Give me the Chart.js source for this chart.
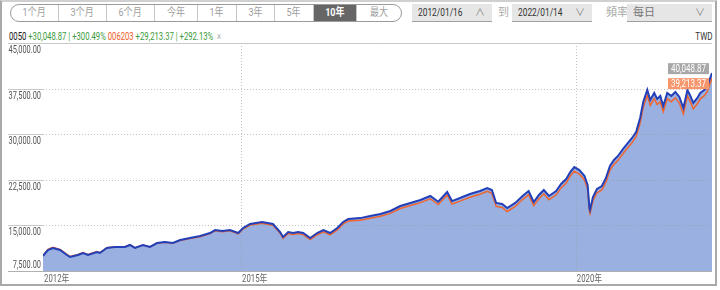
<!DOCTYPE html>
<html>
<head>
<meta charset="utf-8">
<script src="https://cdn.jsdelivr.net/npm/chart.js@4/dist/chart.umd.min.js"></script>
<style>
  html, body { margin: 0; padding: 0; background: #fff; }
  body {
    width: 720px; height: 290px; position: relative; overflow: hidden;
    font-family: Roboto, "Noto Sans CJK SC", sans-serif;
  }
  .frame {
    position: absolute; left: 0; top: 0; width: 713px; height: 282px;
    border: 2px solid #a9a9a9; border-top-color: #d0d0d0; box-sizing: content-box;
  }
  .tabs {
    position: absolute; left: 10px; top: 4px; height: 18px; display: flex;
    border: 1px solid #9a9a9a; border-radius: 9px; overflow: hidden; box-sizing: border-box;
  }
  .tabs div {
    height: 16px; line-height: 16px; text-align: center; font-size: 11px; color: #a0a0a0;
    border-left: 1px solid #c4c4c4; box-sizing: border-box;
  }
  .tabs div span { display: inline-block; transform: scaleX(0.82); }
  .tabs div:first-child { border-left: none; }
  .tabs div.on { background: #666; color: #fff; font-weight: bold; }
  .box {
    position: absolute; top: 4px; height: 18px; background: #e6e6e6;
    border-bottom: 1px solid #a0a0a0; box-sizing: border-box;
    font-size: 11px; line-height: 17px; color: #333; padding-left: 6px;
  }
  .box b { font-weight: normal; display: inline-block; transform: scaleX(0.76); transform-origin: 0 50%; }
  .box span { position: absolute; right: 7px; top: 0; color: #888; font-size: 10px; }
  .lbl { position: absolute; top: 4px; font-size: 11px; line-height: 17px; color: #aaa; }
  .legend {
    position: absolute; left: 9px; top: 30px; font-size: 11px; line-height: 13px; white-space: nowrap;
    transform: scaleX(0.7); transform-origin: 0 50%;
  }
  .legend .k { color: #111; }
  .legend .g { color: #3c9a3c; }
  .legend .o { color: #f05a28; }
  .legend .x { color: #aaa; }
  .twd {
    position: absolute; right: 8px; top: 30px; font-size: 10px; line-height: 13px; color: #333;
    transform: scaleX(0.8); transform-origin: 100% 50%;
  }
  canvas { position: absolute; left: 0; top: 0; }
</style>
</head>
<body>
<div class="frame"></div>
<div class="tabs" id="tabs"></div>
<div class="box" style="left:412px;width:80px;"><b>2012/01/16</b><span>∧</span></div>
<div class="lbl" style="left:498px;">到</div>
<div class="box" style="left:512px;width:80px;"><b>2022/01/14</b><span>∨</span></div>
<div class="lbl" style="left:606px;">頻率</div>
<div class="box" style="left:627px;width:85px;color:#777;">每日<span>∨</span></div>
<div class="legend"><span class="k">0050</span> <span class="g">+30,048.87 | +300.49%</span> <span class="o">006203</span> <span class="g">+29,213.37 | +292.13%</span> <span class="x">&nbsp;×</span></div>
<div class="twd">TWD</div>
<canvas id="perfChart" width="720" height="290"></canvas>

<script>
// ========== Data ==========
const rangeTabs = ['1个月', '3个月', '6个月', '今年', '1年', '3年', '5年', '10年', '最大'];
const tabWidths = [47, 48, 48, 43, 39, 38, 39, 43, 45];
const activeTab = '10年';

const seriesNames = ['0050', '006203'];
const startDate = '2012-01-16';
const endDate = '2022-01-14';

const dates = [
  '2012-01-16', '2012-02-12', '2012-03-10', '2012-04-18', '2012-05-26', '2012-06-12',
  '2012-07-25', '2012-08-22', '2012-09-18', '2012-11-06', '2012-11-22', '2012-12-30',
  '2013-02-12', '2013-04-08', '2013-05-05', '2013-06-01', '2013-07-15', '2013-08-22',
  '2013-09-30', '2013-11-12', '2013-12-25', '2014-02-03', '2014-03-28', '2014-05-23',
  '2014-07-16', '2014-08-12', '2014-09-20', '2014-11-02', '2014-12-16', '2015-01-12',
  '2015-02-19', '2015-04-25', '2015-06-24', '2015-08-02', '2015-08-18', '2015-09-15',
  '2015-10-12', '2015-11-08', '2015-12-06', '2016-01-13', '2016-02-20', '2016-03-25',
  '2016-05-01', '2016-06-09', '2016-07-11', '2016-08-08', '2016-10-12', '2016-12-06',
  '2017-01-31', '2017-03-26', '2017-05-19', '2017-07-13', '2017-09-06', '2017-10-30',
  '2017-12-12', '2018-01-30', '2018-02-25', '2018-04-10', '2018-06-03', '2018-07-28',
  '2018-09-05', '2018-10-01', '2018-10-24', '2018-11-26', '2018-12-23', '2019-02-05',
  '2019-03-17', '2019-04-19', '2019-05-17', '2019-06-14', '2019-07-11', '2019-08-08',
  '2019-09-16', '2019-10-13', '2019-11-10', '2019-12-02', '2019-12-24', '2020-01-21',
  '2020-02-18', '2020-03-06', '2020-03-16', '2020-03-19', '2020-04-04', '2020-04-26',
  '2020-05-23', '2020-06-14', '2020-07-06', '2020-07-28', '2020-08-19', '2020-09-16',
  '2020-10-08', '2020-11-04', '2020-11-26', '2020-12-18', '2021-01-04', '2021-01-26',
  '2021-02-11', '2021-03-05', '2021-03-21', '2021-04-07', '2021-04-23', '2021-05-15',
  '2021-06-06', '2021-06-28', '2021-07-20', '2021-08-11', '2021-09-02', '2021-09-18',
  '2021-10-04', '2021-10-26', '2021-11-11', '2021-12-03', '2021-12-20', '2021-12-31',
  '2022-01-14'
];

const values0050 = [
  10000, 10950, 11290, 10950, 10130, 9800,
  10130, 10460, 10130, 10630, 10460, 11290,
  11450, 11450, 11780, 11290, 11780, 11450,
  12100, 12270, 12100, 12600, 12930, 13250,
  13750, 14240, 14070, 14240, 13750, 14570,
  15230, 15560, 15230, 13900, 13090, 13900,
  13750, 13900, 13750, 12930, 13750, 14240,
  13750, 14570, 15560, 16050, 16200, 16550,
  16870, 17370, 18190, 18690, 19180, 19840,
  18900, 20500, 19000, 19500, 20170, 20660,
  21150, 20820, 18690, 18520, 17860, 18690,
  19840, 20660, 18850, 20000, 20820, 19840,
  20660, 21810, 22630, 23780, 24600, 24100,
  23130, 21650, 17860, 17540, 19670, 20990,
  21480, 22800, 24770, 25760, 26420, 27570,
  28390, 29380, 30370, 32670, 35300, 37280,
  35630, 36780, 35800, 36290, 34640, 36780,
  36290, 36950, 36120, 34310, 37280, 36290,
  35140, 35960, 36780, 37280, 37930, 38920,
  40048.87
];

const values006203 = [
  10000, 11040, 11390, 11050, 10220, 9880,
  10210, 10540, 10200, 10700, 10520, 11340,
  11490, 11480, 11800, 11300, 11780, 11440,
  12080, 12230, 12050, 12530, 12850, 13150,
  13640, 14120, 13940, 14100, 13600, 14410,
  15060, 15370, 15030, 13690, 12870, 13670,
  13510, 13650, 13490, 12660, 13470, 13950,
  13450, 14260, 15240, 15720, 15850, 16190,
  16490, 16980, 17780, 18260, 18740, 19380,
  18430, 20010, 18510, 18990, 19640, 20120,
  20600, 20260, 18130, 17950, 17290, 18110,
  19250, 20060, 18250, 19390, 20200, 19220,
  20030, 21170, 21980, 23120, 23930, 23430,
  22470, 21000, 17260, 16950, 19050, 20350,
  20830, 22140, 24080, 25050, 25700, 26830,
  27640, 28610, 29580, 31850, 34430, 36380,
  34730, 35860, 34870, 35350, 33690, 35820,
  35320, 35970, 35130, 33330, 36300, 35310,
  34170, 35000, 35820, 36340, 37020, 38040,
  39213.37
];

// y axis and x axis ticks
const yMin = 7500;
const yMax = 45000;
const yStep = 7500;
const xTickDates = ['2012-01-16', '2015-01-01', '2020-01-01'];
const xTickLabels = ['2012年', '2015年', '2020年'];

// ========== Helpers ==========
const FONT = 'Roboto, "Noto Sans CJK SC", sans-serif';

// 'YYYY-MM-DD' -> decimal year, so a linear scale can stand in for a time axis
function toYear(s) {
  const [y, m, d] = s.split('-').map(Number);
  const start = Date.UTC(y, 0, 1);
  const next = Date.UTC(y + 1, 0, 1);
  return y + (Date.UTC(y, m - 1, d) - start) / (next - start);
}

function fmtNum(v) {
  return v.toLocaleString('en-US', { minimumFractionDigits: 2, maximumFractionDigits: 2 });
}

// the original uses a condensed face; squeeze the text horizontally instead
function narrowText(ctx, text, x, y, align, sx) {
  ctx.save();
  ctx.translate(x, y);
  ctx.scale(sx, 1);
  ctx.textAlign = align;
  ctx.fillText(text, 0, 0);
  ctx.restore();
}

// build the range tabs
const tabs = document.getElementById('tabs');
rangeTabs.forEach((t, i) => {
  const el = document.createElement('div');
  el.innerHTML = '<span>' + t + '</span>';
  el.style.width = tabWidths[i] + 'px';
  if (t === activeTab) el.className = 'on';
  tabs.appendChild(el);
});

const xs = dates.map(toYear);
const points0050 = xs.map((x, i) => ({ x, y: values0050[i] }));
const points006203 = xs.map((x, i) => ({ x, y: values006203[i] }));
const xTickValues = xTickDates.map(toYear);

// ========== Frame plugin: grid, axis labels, borders, last value tags ==========
const frameDecor = {
  id: 'frameDecor',
  // dotted grid goes over the area fill but under the lines
  beforeDatasetsDraw(chart) {
    const { ctx, chartArea } = chart;
    const yScale = chart.scales.y;
    const xScale = chart.scales.x;
    ctx.save();
    ctx.strokeStyle = 'rgba(150,150,150,0.55)';
    ctx.lineWidth = 1;
    ctx.setLineDash([1, 2]);
    yScale.ticks.forEach(t => {
      if (t.value <= yMin || t.value >= yMax) return;
      const py = Math.round(yScale.getPixelForValue(t.value)) + 0.5;
      ctx.beginPath();
      ctx.moveTo(chartArea.left, py);
      ctx.lineTo(chartArea.right, py);
      ctx.stroke();
    });
    xTickValues.slice(1).forEach(v => {
      const px = Math.round(xScale.getPixelForValue(v)) + 0.5;
      ctx.beginPath();
      ctx.moveTo(px, chartArea.top);
      ctx.lineTo(px, chartArea.bottom);
      ctx.stroke();
    });
    ctx.restore();
  },
  afterDraw(chart) {
    const { ctx, chartArea } = chart;
    const yScale = chart.scales.y;
    const xScale = chart.scales.x;

    ctx.save();
    ctx.font = '10px ' + FONT;
    yScale.ticks.forEach(t => {
      const py = Math.round(yScale.getPixelForValue(t.value)) + 0.5;
      // short solid rule next to the label, left of the plot
      ctx.strokeStyle = '#c8c8c8';
      ctx.lineWidth = 1;
      ctx.beginPath();
      ctx.moveTo(8, py);
      ctx.lineTo(chartArea.left, py);
      ctx.stroke();

      ctx.fillStyle = '#555';
      if (t.value === yMin) {
        ctx.textBaseline = 'bottom';
        narrowText(ctx, fmtNum(t.value), 41, py - 1, 'right', 0.74);
      } else {
        ctx.textBaseline = 'top';
        narrowText(ctx, fmtNum(t.value), 41, py + 2, 'right', 0.74);
      }
    });

    // x labels, left aligned on their tick
    ctx.fillStyle = '#666';
    ctx.textBaseline = 'top';
    xTickValues.forEach((v, i) => {
      const px = xScale.getPixelForValue(v);
      narrowText(ctx, xTickLabels[i], px + 1, chartArea.bottom + 3, 'left', 0.78);
    });

    // top and bottom borders of the plot
    ctx.strokeStyle = '#c8c8c8';
    ctx.beginPath();
    const top = Math.round(chartArea.top) + 0.5;
    ctx.moveTo(chartArea.left, top);
    ctx.lineTo(chartArea.right, top);
    ctx.stroke();
    ctx.strokeStyle = '#b0b0b0';
    ctx.beginPath();
    const bottom = Math.round(chartArea.bottom) + 0.5;
    ctx.moveTo(8, bottom);
    ctx.lineTo(chartArea.right, bottom);
    ctx.stroke();

    // last value tags
    const n = values0050.length - 1;
    const lastX = xScale.getPixelForValue(xs[n]);
    const yA = yScale.getPixelForValue(values0050[n]);
    const yB = yScale.getPixelForValue(values006203[n]);
    const mid = (yA + yB) / 2;
    const tags = [
      { y: mid - 7, text: fmtNum(values0050[n]), bg: '#a8a8a8' },
      { y: mid + 8, text: fmtNum(values006203[n]), bg: '#f7956c' }
    ];
    ctx.font = '10px ' + FONT;
    ctx.textBaseline = 'middle';
    tags.forEach(tag => {
      const w = 41, h = 11;
      const right = lastX - 3;
      ctx.fillStyle = tag.bg;
      ctx.fillRect(right - w, tag.y - h / 2, w, h);
      ctx.fillStyle = '#fff';
      narrowText(ctx, tag.text, right - w / 2, tag.y + 0.5, 'center', 0.8);
    });
    ctx.restore();
  }
};

// ========== Chart ==========
const chartCtx = document.getElementById('perfChart');
new Chart(chartCtx, {
  type: 'line',
  data: {
    datasets: [
      {
        label: seriesNames[0],
        data: points0050,
        borderColor: '#2340b8',
        borderWidth: 2,
        backgroundColor: '#99b0e0',
        fill: 'start',
        pointRadius: 0,
        tension: 0
      },
      {
        label: seriesNames[1],
        data: points006203,
        borderColor: '#f0642d',
        borderWidth: 1.5,
        fill: false,
        pointRadius: 0,
        tension: 0
      }
    ]
  },
  options: {
    responsive: false,
    animation: false,
    devicePixelRatio: 1,
    layout: {
      padding: { left: 43, right: 8, top: 43, bottom: 19 }
    },
    plugins: {
      legend: { display: false },
      tooltip: { enabled: false },
      filler: { drawTime: 'beforeDatasetsDraw' }
    },
    scales: {
      x: {
        type: 'linear',
        min: toYear(startDate),
        max: toYear(endDate),
        afterBuildTicks: axis => {
          axis.ticks = xTickValues.map(v => ({ value: v }));
        },
        ticks: { display: false },
        grid: { display: false, drawTicks: false },
        border: { display: false }
      },
      y: {
        min: yMin,
        max: yMax,
        ticks: { display: false, stepSize: yStep },
        grid: { display: false, drawTicks: false },
        border: { display: false }
      }
    }
  },
  plugins: [frameDecor]
});
</script>
</body>
</html>
